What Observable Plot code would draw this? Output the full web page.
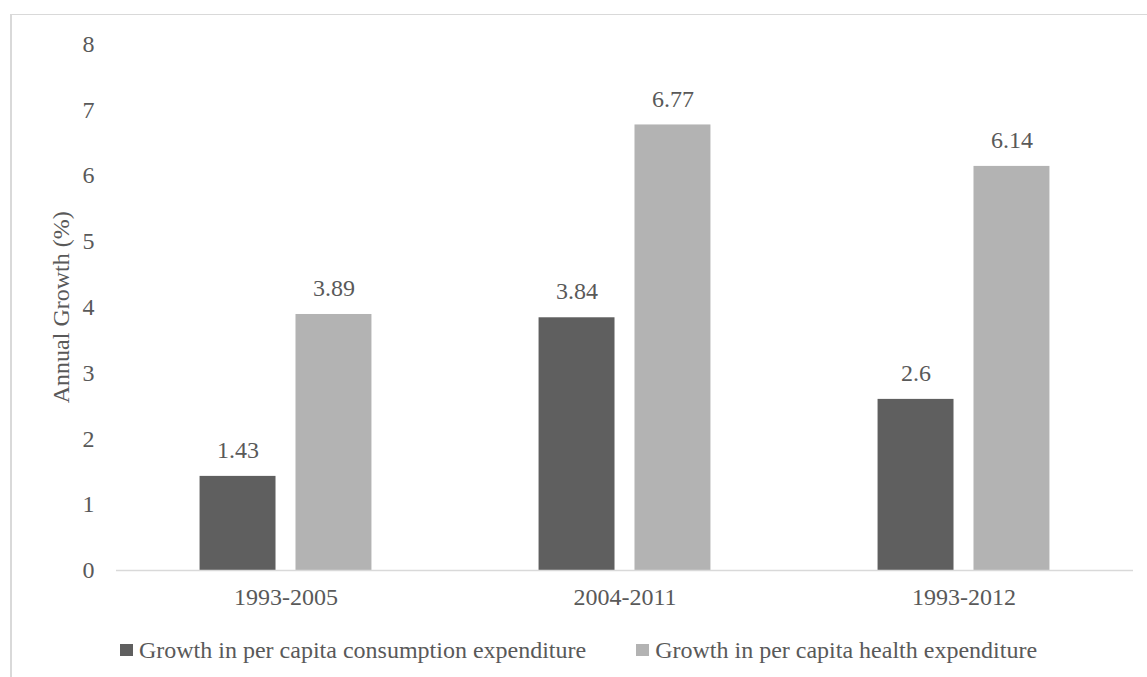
<!DOCTYPE html>
<html>
<head>
<meta charset="utf-8">
<script src="https://cdn.jsdelivr.net/npm/d3@7"></script>
<script src="https://cdn.jsdelivr.net/npm/@observablehq/plot@0.6"></script>
<style>
  html, body { margin: 0; padding: 0; background: #fff; }
  #wrap { position: relative; width: 1147px; height: 677px; overflow: hidden; font-family: "Liberation Serif", "Times New Roman", serif; color: #595959; }
  #frame { position: absolute; left: 10px; top: 14px; width: 1200px; height: 700px; border-top: 1.5px solid #d9d9d9; border-left: 2px solid #d9d9d9; }
  #chart { position: absolute; left: 0; top: 0; }
  #legend { position: absolute; left: 10px; top: 637px; width: 1137px; display: flex; justify-content: center; gap: 50px; font-size: 24px; line-height: 26px; }
  .item { display: flex; align-items: center; }
  .sw { width: 13px; height: 12px; margin-right: 6px; }
</style>
</head>
<body>
<div id="wrap">
  <div id="frame"></div>
  <div id="chart"></div>
  <div id="legend"></div>
</div>
<script>
const categories = ["1993-2005", "2004-2011", "1993-2012"];
const seriesNames = ["Growth in per capita consumption expenditure", "Growth in per capita health expenditure"];
const consumption = [1.43, 3.84, 2.6];
const health = [3.89, 6.77, 6.14];
const yTicks = [0, 1, 2, 3, 4, 5, 6, 7, 8];
const colors = ["#5f5f5f", "#b3b3b3"];

const data = categories.flatMap((c, i) => [
  {period: c, series: seriesNames[0], value: consumption[i]},
  {period: c, series: seriesNames[1], value: health[i]}
]);

const fs = "24px";
const chart = Plot.plot({
  width: 1147,
  height: 620,
  marginLeft: 115,
  marginRight: 14,
  marginTop: 43.5,
  marginBottom: 50,
  style: {fontFamily: '"Liberation Serif", "Times New Roman", serif', fontSize: fs, color: "#595959", background: "transparent", overflow: "visible"},
  fx: {domain: categories, paddingInner: 0, paddingOuter: 0, label: null, tickSize: 0, tickPadding: 17},
  x: {domain: seriesNames, paddingInner: 0.2083, paddingOuter: 0.871, axis: null, round: false},
  y: {domain: [0, 8], ticks: yTicks, tickSize: 0, tickPadding: 22, label: "Annual Growth (%)", labelAnchor: "center", labelArrow: "none", labelOffset: 65, tickFormat: d => String(d)},
  color: {domain: seriesNames, range: colors},
  marks: [
    Plot.barY(data, {fx: "period", x: "series", y: "value", fill: "series"}),
    Plot.ruleY([0], {stroke: "#d9d9d9", strokeWidth: 1.5}),
    Plot.text(data, {fx: "period", x: "series", y: "value", text: d => String(d.value), dy: -26, fill: "#595959", fontSize: fs})
  ]
});
document.getElementById("chart").appendChild(chart);

const legend = document.getElementById("legend");
seriesNames.forEach((s, i) => {
  const item = document.createElement("div");
  item.className = "item";
  const sw = document.createElement("div");
  sw.className = "sw";
  sw.style.background = colors[i];
  const t = document.createElement("span");
  t.textContent = s;
  item.appendChild(sw);
  item.appendChild(t);
  legend.appendChild(item);
});
</script>
</body>
</html>
